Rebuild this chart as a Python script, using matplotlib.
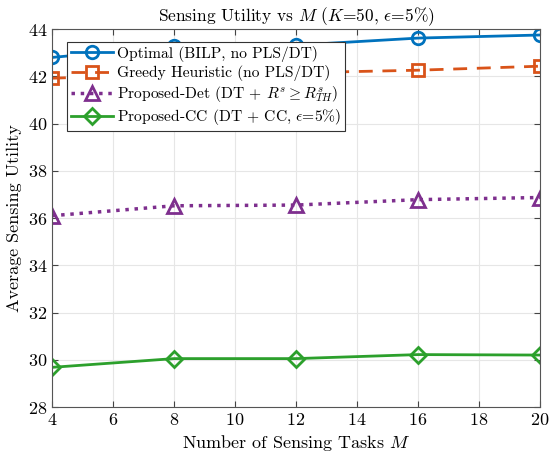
import matplotlib
matplotlib.use("Agg")
import matplotlib.pyplot as plt

plt.rcParams["font.family"] = "serif"
plt.rcParams["font.serif"] = ["cmr10"]
plt.rcParams["mathtext.fontset"] = "cm"
plt.rcParams["axes.formatter.use_mathtext"] = True

M = [4, 8, 12, 16, 20]
optimal = [42.8, 43.28, 43.32, 43.62, 43.75]
greedy = [41.92, 42.1, 42.15, 42.26, 42.43]
prop_det = [36.1, 36.52, 36.55, 36.78, 36.87]
prop_cc = [29.68, 30.05, 30.05, 30.22, 30.2]

fig = plt.figure(figsize=(5.5, 4.62), dpi=100)
ax = fig.add_axes([0.0945, 0.119, 0.8875, 0.818])

ax.plot(M, optimal, "-o", color="#0072BD", lw=2, ms=9, mfc="none", mew=2,
        label="Optimal (BILP, no PLS/DT)")
ax.plot(M, greedy, "--s", color="#D95319", lw=2, ms=8, mfc="none", mew=2,
        dashes=(5, 3.5), label="Greedy Heuristic (no PLS/DT)")
ax.plot(M, prop_det, ":^", color="#7E2F8E", lw=2.5, ms=10, mfc="none", mew=2,
        label=r"Proposed-Det (DT + $R^s \geq R^s_{TH}$)")
ax.plot(M, prop_cc, "-D", color="#2CA02C", lw=2, ms=8, mfc="none", mew=2,
        label=r"Proposed-CC (DT + CC, $\epsilon$=5%)")

ax.set_xlim(4, 20)
ax.set_ylim(28, 44)
ax.set_xticks(range(4, 21, 2))
ax.set_yticks(range(28, 45, 2))
ax.grid(True, color="#e6e6e6", lw=0.8)
ax.set_axisbelow(True)
ax.tick_params(direction="in", top=True, right=True, labelsize=13,
               color="#444444", length=4)
for s in ax.spines.values():
    s.set_color("#555555")
    s.set_linewidth(0.8)

ax.set_xlabel(r"Number of Sensing Tasks $M$", fontsize=13)
ax.set_ylabel("Average Sensing Utility", fontsize=13)
ax.set_title(r"Sensing Utility vs $M$ ($K$=50, $\epsilon$=5%)", fontsize=12.5)

leg = ax.legend(loc="upper left", bbox_to_anchor=(0.03, 0.966), fontsize=11.2,
                handlelength=2.7, handletextpad=0.3, borderpad=0.25,
                labelspacing=0.2, fancybox=False, framealpha=1,
                edgecolor="#333333", borderaxespad=0)
leg.get_frame().set_linewidth(0.8)

fig.savefig("out.png", dpi=100)
